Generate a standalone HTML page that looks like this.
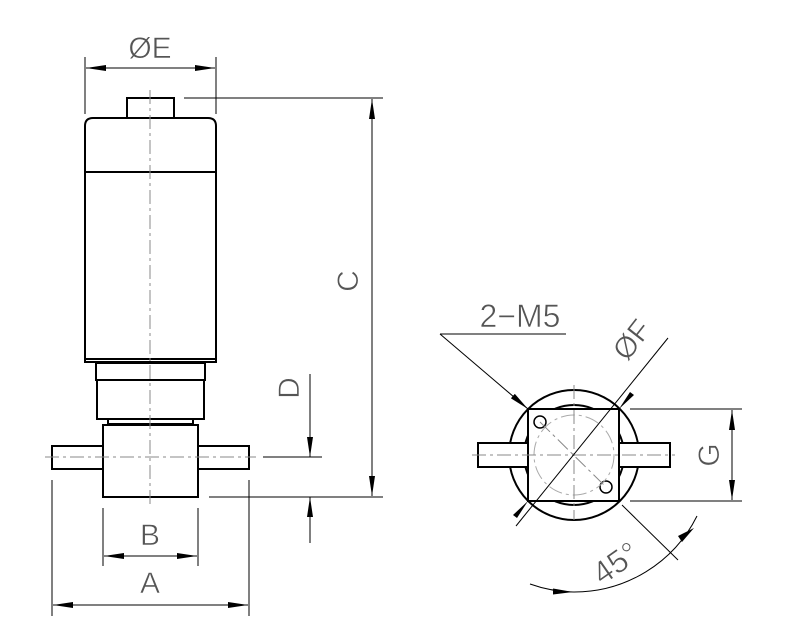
<!DOCTYPE html>
<html><head><meta charset="utf-8"><style>html,body{margin:0;padding:0;background:#fff}svg{display:block}</style></head>
<body>
<svg width="800" height="626" viewBox="0 0 800 626" xmlns="http://www.w3.org/2000/svg" font-family="Liberation Sans, sans-serif">
<defs>
<marker id="ar" viewBox="0 0 20 6" refX="20" refY="3" markerWidth="20" markerHeight="6" markerUnits="userSpaceOnUse" orient="auto"><path d="M0,0 L20,3 L0,6 Z" fill="#000"/></marker>
<marker id="as" viewBox="0 0 20 6" refX="0" refY="3" markerWidth="20" markerHeight="6" markerUnits="userSpaceOnUse" orient="auto"><path d="M20,0 L0,3 L20,6 Z" fill="#000"/></marker>
</defs>
<g fill="none" stroke="#000" stroke-width="2">
<rect x="127" y="98" width="47" height="20"/>
<path d="M85,362 V126 Q85,118 93,118 H208 Q216,118 216,126 V362 Z"/>
<line x1="85" y1="172" x2="216" y2="172"/>
<line x1="85" y1="359" x2="216" y2="359"/>
<rect x="96" y="363" width="109" height="17"/>
<rect x="97" y="380" width="107" height="39"/>
<rect x="108" y="419" width="85" height="5"/>
<rect x="103" y="425" width="95" height="72"/>
<rect x="52" y="446" width="51" height="23"/>
<rect x="198" y="446" width="51" height="23"/>
<circle cx="574" cy="455" r="65"/>
<circle cx="574" cy="455" r="50"/>
<rect x="478" y="443" width="50" height="24" fill="#fff"/>
<rect x="619" y="443" width="51" height="24" fill="#fff"/>
<rect x="528" y="409" width="91" height="92" fill="#fff"/>
<circle cx="540" cy="422" r="6" stroke-width="1.5"/>
<circle cx="606" cy="487" r="6" stroke-width="1.5"/>
</g>
<g fill="none" stroke="#888" stroke-width="1" stroke-dasharray="14,4,3,4">
<line x1="150" y1="90" x2="150" y2="505"/>
<line x1="45" y1="457" x2="256" y2="457"/>
<circle cx="574" cy="455" r="40" stroke="#aaa"/>
<line x1="574" y1="385" x2="574" y2="520"/>
<line x1="472" y1="455" x2="675" y2="455"/>
<line x1="540" y1="422" x2="606" y2="487"/>
</g>
<g fill="none" stroke="#000" stroke-width="1">
<line x1="85" y1="57" x2="85" y2="114"/><line x1="216" y1="57" x2="216" y2="114"/>
<line x1="86" y1="68" x2="215" y2="68" marker-start="url(#as)" marker-end="url(#ar)"/>
<line x1="184" y1="98" x2="383" y2="98"/><line x1="209" y1="497" x2="383" y2="497"/>
<line x1="372" y1="99" x2="372" y2="496" marker-start="url(#as)" marker-end="url(#ar)"/>
<line x1="263" y1="457" x2="322" y2="457"/>
<line x1="310" y1="374" x2="310" y2="457" marker-end="url(#ar)"/>
<line x1="310" y1="543" x2="310" y2="497" marker-end="url(#ar)"/>
<line x1="103" y1="508" x2="103" y2="566"/><line x1="198" y1="508" x2="198" y2="566"/>
<line x1="104" y1="556" x2="197" y2="556" marker-start="url(#as)" marker-end="url(#ar)"/>
<line x1="52" y1="480" x2="52" y2="616"/><line x1="249" y1="480" x2="249" y2="616"/>
<line x1="53" y1="605" x2="248" y2="605" marker-start="url(#as)" marker-end="url(#ar)"/>
<line x1="440" y1="334" x2="566" y2="334"/>
<line x1="440" y1="334" x2="528" y2="409" marker-end="url(#ar)"/>
<line x1="516" y1="526" x2="668" y2="338"/>
<line x1="630" y1="409" x2="742" y2="409"/><line x1="630" y1="501" x2="742" y2="501"/>
<line x1="732" y1="410" x2="732" y2="500" marker-start="url(#as)" marker-end="url(#ar)"/>
<line x1="622" y1="505" x2="678" y2="560"/>
<path d="M530,584 A137,137 0 0 0 573,592" marker-end="url(#ar)"/>
<path d="M573,592 A137,137 0 0 0 697,516"/>
</g>
<g fill="#000">
<polygon points="528,501 513,515 517,518"/>
<polygon points="619,409 634,395 630,392"/>
<polygon points="694,528 682,542 678,536"/>
</g>
<g fill="#555" font-size="30" font-weight="normal" stroke="#fff" stroke-width="0.6" paint-order="normal">
<text x="150" y="58" text-anchor="middle">ØE</text>
<text x="150" y="545" text-anchor="middle">B</text>
<text x="150" y="593" text-anchor="middle">A</text>
<text transform="translate(358,281) rotate(-90)" text-anchor="middle">C</text>
<text transform="translate(299,388) rotate(-90)" text-anchor="middle">D</text>
<text transform="translate(719,455) rotate(-90)" text-anchor="middle">G</text>
<text x="520" y="327" text-anchor="middle" font-size="32">2−M5</text>
<text transform="translate(640,346) rotate(-52)" text-anchor="middle">ØF</text>
<text transform="translate(622,572) rotate(-35)" text-anchor="middle" font-size="32">45°</text>
</g>
</svg>
</body></html>
